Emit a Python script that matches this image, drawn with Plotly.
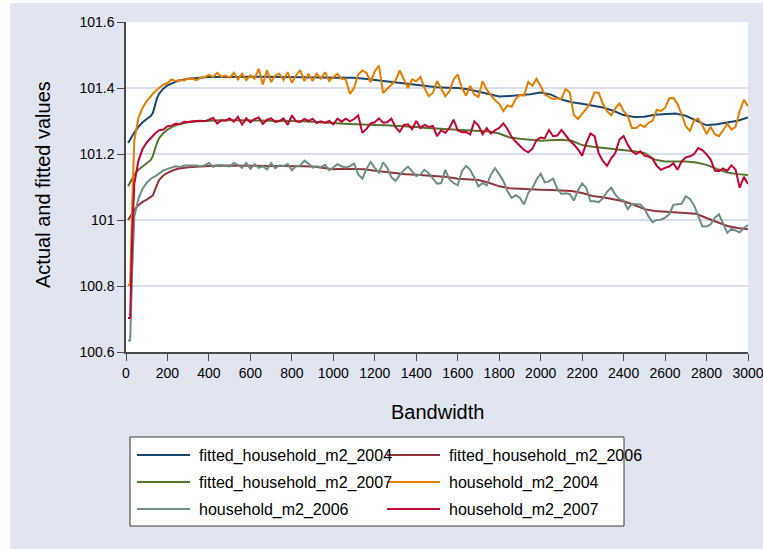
import plotly.graph_objects as go

# Bandwidth grid for the smoothed (fitted) series
x_fit = [10, 20, 40, 60, 80, 100, 120, 130, 140, 150, 160, 180, 200, 225, 250,
         300, 350, 400, 450, 500, 550, 600, 650, 700, 750, 800, 850, 900, 950,
         1000, 1050, 1100, 1150, 1200, 1250, 1300, 1350, 1400, 1450, 1500, 1550,
         1600, 1650, 1700, 1750, 1800, 1850, 1900, 1950, 2000, 2050, 2100, 2150,
         2200, 2250, 2300, 2350, 2400, 2450, 2500, 2550, 2600, 2650, 2700, 2750,
         2800, 2850, 2900, 2950, 3000]

fitted_2004 = [101.233, 101.245, 101.265, 101.282, 101.296, 101.306, 101.316, 101.325,
               101.348, 101.370, 101.383, 101.398, 101.408, 101.416, 101.422,
               101.428, 101.431, 101.433, 101.433, 101.434, 101.434, 101.434, 101.434,
               101.434, 101.434, 101.434, 101.433, 101.433, 101.432,
               101.431, 101.431, 101.431, 101.428, 101.424, 101.421, 101.418, 101.414,
               101.409, 101.404, 101.402, 101.401, 101.400, 101.396, 101.389, 101.380,
               101.374, 101.376, 101.378, 101.381, 101.386, 101.380, 101.365, 101.357,
               101.352, 101.346, 101.341, 101.331, 101.318, 101.312, 101.313, 101.319,
               101.322, 101.323, 101.316, 101.302, 101.287, 101.290, 101.295, 101.301,
               101.311]

fitted_2006 = [101.000, 101.010, 101.030, 101.045, 101.055, 101.062, 101.070, 101.075,
               101.092, 101.108, 101.122, 101.135, 101.143, 101.150, 101.155,
               101.160, 101.163, 101.164, 101.165, 101.165, 101.165, 101.165, 101.165,
               101.165, 101.164, 101.164, 101.163, 101.162, 101.159,
               101.154, 101.155, 101.155, 101.154, 101.149, 101.145, 101.141, 101.139,
               101.137, 101.135, 101.133, 101.130, 101.125, 101.122, 101.121, 101.113,
               101.102, 101.096, 101.094, 101.093, 101.092, 101.091, 101.090, 101.088,
               101.082, 101.073, 101.069, 101.064, 101.057, 101.046, 101.033, 101.027,
               101.025, 101.024, 101.023, 101.019, 101.006, 100.995, 100.982, 100.976,
               100.972]

fitted_2007 = [101.102, 101.115, 101.137, 101.152, 101.163, 101.172, 101.182, 101.195,
               101.218, 101.235, 101.248, 101.263, 101.274, 101.283, 101.289,
               101.296, 101.299, 101.301, 101.302, 101.302, 101.302, 101.302, 101.301,
               101.301, 101.300, 101.300, 101.299, 101.298, 101.296,
               101.294, 101.292, 101.290, 101.289, 101.288, 101.287, 101.286, 101.284,
               101.282, 101.279, 101.277, 101.274, 101.273, 101.271, 101.270, 101.268,
               101.262, 101.250, 101.246, 101.244, 101.240, 101.242, 101.243, 101.240,
               101.227, 101.222, 101.219, 101.214, 101.211, 101.208, 101.203, 101.183,
               101.177, 101.177, 101.177, 101.174, 101.167, 101.155, 101.144, 101.139,
               101.136]

# Bandwidth grid for the observed series
x_obs = [10, 20, 30] + list(range(40, 3001, 20))

household_2004 = [
    100.803, 100.803, 101.050, 101.240, 101.310, 101.340, 101.360, 101.375, 101.390,
    101.400, 101.410, 101.415, 101.426, 101.421, 101.424, 101.423, 101.429, 101.428,
    101.424, 101.431, 101.433, 101.440, 101.434, 101.446, 101.434, 101.438, 101.431,
    101.446, 101.426, 101.443, 101.424, 101.438, 101.428, 101.458, 101.411, 101.454,
    101.418, 101.438, 101.443, 101.424, 101.448, 101.416, 101.438, 101.454, 101.421,
    101.443, 101.421, 101.444, 101.428, 101.448, 101.421,
    101.433, 101.443, 101.428, 101.426, 101.382, 101.400, 101.441, 101.453, 101.446,
    101.418, 101.451, 101.468, 101.385, 101.397, 101.409, 101.423, 101.453, 101.424,
    101.400, 101.426, 101.420, 101.434, 101.400, 101.375, 101.385, 101.421, 101.400,
    101.375, 101.390, 101.426, 101.441, 101.400, 101.377, 101.406, 101.380, 101.373,
    101.421, 101.395, 101.378, 101.363, 101.352, 101.330, 101.347, 101.343, 101.367,
    101.379, 101.377, 101.418, 101.407, 101.428,
    101.406, 101.380, 101.373, 101.366, 101.369, 101.367, 101.397, 101.387, 101.318,
    101.306, 101.322, 101.337, 101.356, 101.387, 101.385, 101.352, 101.330, 101.318,
    101.338, 101.353, 101.330, 101.315, 101.279, 101.279, 101.289, 101.282, 101.294,
    101.301, 101.334, 101.330, 101.340, 101.369, 101.370, 101.352, 101.320, 101.284,
    101.270, 101.302, 101.307, 101.287, 101.261, 101.282, 101.260, 101.254, 101.272,
    101.292, 101.274, 101.282, 101.330, 101.364, 101.345]

household_2006 = [
    100.635, 100.635, 100.850, 101.010, 101.065, 101.095, 101.113, 101.125, 101.132,
    101.142, 101.150, 101.155, 101.160, 101.163, 101.161, 101.165, 101.165, 101.166,
    101.165, 101.163, 101.166, 101.173, 101.161, 101.166, 101.167, 101.164, 101.162,
    101.173, 101.167, 101.158, 101.173, 101.155, 101.169, 101.158, 101.163, 101.153,
    101.172, 101.157, 101.166, 101.164, 101.169, 101.151, 101.163, 101.165, 101.180,
    101.171, 101.159, 101.163, 101.160, 101.167, 101.151,
    101.159, 101.169, 101.163, 101.159, 101.163, 101.171, 101.138, 101.125, 101.155,
    101.176, 101.158, 101.143, 101.175, 101.158, 101.130, 101.118, 101.136, 101.151,
    101.162, 101.147, 101.133, 101.138, 101.152, 101.142, 101.125, 101.110, 101.112,
    101.152, 101.123, 101.112, 101.105, 101.148, 101.164, 101.152, 101.128, 101.102,
    101.112, 101.105, 101.138, 101.157, 101.139, 101.118, 101.087, 101.067, 101.075,
    101.067, 101.047, 101.082, 101.097, 101.122,
    101.140, 101.114, 101.117, 101.125, 101.095, 101.079, 101.081, 101.079, 101.059,
    101.090, 101.111, 101.097, 101.057, 101.057, 101.054, 101.066, 101.085, 101.098,
    101.077, 101.063, 101.059, 101.033, 101.049, 101.047, 101.047, 101.035, 101.011,
    100.993, 101.000, 101.001, 101.007, 101.017, 101.046, 101.048, 101.049, 101.072,
    101.064, 101.045, 101.011, 100.980, 100.980, 100.987, 101.007, 101.017, 100.989,
    100.961, 100.973, 100.968, 100.963, 100.976, 100.985]

household_2007 = [
    100.703, 100.703, 100.950, 101.110, 101.180, 101.215, 101.235, 101.250, 101.262,
    101.272, 101.274, 101.284, 101.286, 101.292, 101.290, 101.298, 101.297, 101.299,
    101.300, 101.301, 101.299, 101.304, 101.309, 101.292, 101.302, 101.301, 101.308,
    101.298, 101.313, 101.289, 101.308, 101.296, 101.306, 101.311, 101.291, 101.304,
    101.308, 101.297, 101.300, 101.308, 101.288, 101.317, 101.299, 101.297, 101.306,
    101.300, 101.307, 101.294, 101.299, 101.294, 101.300,
    101.290, 101.307, 101.298, 101.307, 101.299, 101.306, 101.317, 101.264, 101.276,
    101.293, 101.296, 101.308, 101.295, 101.296, 101.307, 101.281, 101.267, 101.288,
    101.290, 101.275, 101.300, 101.279, 101.288, 101.282, 101.285, 101.254, 101.272,
    101.264, 101.279, 101.304, 101.272, 101.266, 101.267, 101.259, 101.299, 101.286,
    101.260, 101.278, 101.262, 101.272, 101.279, 101.293, 101.276, 101.252, 101.237,
    101.225, 101.212, 101.205, 101.216, 101.242,
    101.250, 101.248, 101.273, 101.254, 101.256, 101.273, 101.257, 101.241, 101.229,
    101.214, 101.195, 101.233, 101.262, 101.254, 101.202, 101.179, 101.164, 101.187,
    101.203, 101.244, 101.254, 101.228, 101.208, 101.200, 101.208, 101.195, 101.192,
    101.185, 101.164, 101.152, 101.158, 101.162, 101.172, 101.152, 101.178, 101.190,
    101.193, 101.200, 101.218, 101.212, 101.199, 101.183, 101.150, 101.148, 101.156,
    101.149, 101.166, 101.153, 101.098, 101.131, 101.109]

y_ticks = [100.6, 100.8, 101.0, 101.2, 101.4, 101.6]
y_tick_text = ["100.6", "100.8", "101", "101.2", "101.4", "101.6"]
x_ticks = list(range(0, 3001, 200))
x_tick_text = [str(v) for v in x_ticks]

series = [
    ("fitted_household_m2_2004", x_fit, fitted_2004, "#1A476F"),
    ("fitted_household_m2_2006", x_fit, fitted_2006, "#90353B"),
    ("fitted_household_m2_2007", x_fit, fitted_2007, "#55752F"),
    ("household_m2_2004", x_obs, household_2004, "#E37E00"),
    ("household_m2_2006", x_obs, household_2006, "#6E8E84"),
    ("household_m2_2007", x_obs, household_2007, "#C10534"),
]

BG = "rgb(225,229,240)"
GRID = "rgb(216,223,238)"
AXIS = "#4a4a4a"
FONT = "Liberation Sans, Arial, sans-serif"

# Canvas geometry (px) used to place the key below the plot
W, H = 763, 549
ML, MR, MT, MB = 126, 15, 22, 197
PW, PH = W - ML - MR, H - MT - MB


def px_x(px):
    return (px - ML) / PW


def px_y(py):
    return (H - MB - py) / PH


fig = go.Figure()
for name, xs, ys, color in series:
    fig.add_trace(go.Scatter(x=xs, y=ys, mode="lines", name=name,
                             line=dict(color=color, width=2), showlegend=False))

# Key: two columns, filled row by row, inside a framed white box
shapes = [
    # white outer margin along the top and left edges of the canvas
    dict(type="rect", xref="paper", yref="paper",
         x0=px_x(-5), x1=px_x(W + 5), y0=px_y(3), y1=px_y(-5),
         fillcolor="white", line=dict(width=0), layer="below"),
    dict(type="rect", xref="paper", yref="paper",
         x0=px_x(-5), x1=px_x(10), y0=px_y(H + 5), y1=px_y(-5),
         fillcolor="white", line=dict(width=0), layer="below"),
    dict(type="rect", xref="paper", yref="paper",
         x0=px_x(130), x1=px_x(624), y0=px_y(526), y1=px_y(437),
         fillcolor="white", line=dict(color="#3a3a3a", width=1)),
]
annotations = [
    dict(text="Actual and fitted values", xref="paper", yref="paper",
         x=px_x(43), y=px_y(185), xanchor="center", yanchor="middle",
         textangle=-90, showarrow=False,
         font=dict(family=FONT, size=20, color="black")),
    dict(text="Bandwidth", xref="paper", yref="paper",
         x=0.5, y=px_y(412), xanchor="center", yanchor="middle",
         showarrow=False,
         font=dict(family=FONT, size=20, color="black")),
]
col_x = [137, 387]
row_y = [455, 482, 509]
for i, (name, _, _, color) in enumerate(series):
    cx, ry = col_x[i % 2], row_y[i // 2]
    shapes.append(dict(type="line", xref="paper", yref="paper",
                       x0=px_x(cx), x1=px_x(cx + 53), y0=px_y(ry), y1=px_y(ry),
                       line=dict(color=color, width=2)))
    annotations.append(dict(text=name, xref="paper", yref="paper",
                            x=px_x(cx + 60), y=px_y(ry + 1),
                            xanchor="left", yanchor="middle", showarrow=False,
                            font=dict(family=FONT, size=16, color="black")))

fig.update_layout(
    width=W, height=H,
    margin=dict(l=ML, r=MR, t=MT, b=MB, autoexpand=False),
    paper_bgcolor=BG,
    plot_bgcolor="white",
    font=dict(family=FONT, color="black", size=14),
    showlegend=False,
    xaxis=dict(
        range=[0, 3000], showgrid=False, zeroline=False,
        tickmode="array", tickvals=x_ticks, ticktext=x_tick_text,
        ticks="outside", ticklen=7, tickwidth=1.2, tickcolor=AXIS,
        showline=True, linecolor=AXIS, linewidth=1.5,
        tickfont=dict(size=14, color="black"),
        ticklabeloverflow="allow",
    ),
    yaxis=dict(
        range=[100.6, 101.6], zeroline=False,
        showgrid=True, gridcolor=GRID, gridwidth=1.5,
        tickmode="array", tickvals=y_ticks, ticktext=y_tick_text,
        ticks="outside", ticklen=7, tickwidth=1.2, tickcolor=AXIS,
        showline=True, linecolor=AXIS, linewidth=1.5,
        tickfont=dict(size=14, color="black"),
        ticklabeloverflow="allow",
    ),
    annotations=annotations,
    shapes=shapes,
)

fig.write_html("out.html")
